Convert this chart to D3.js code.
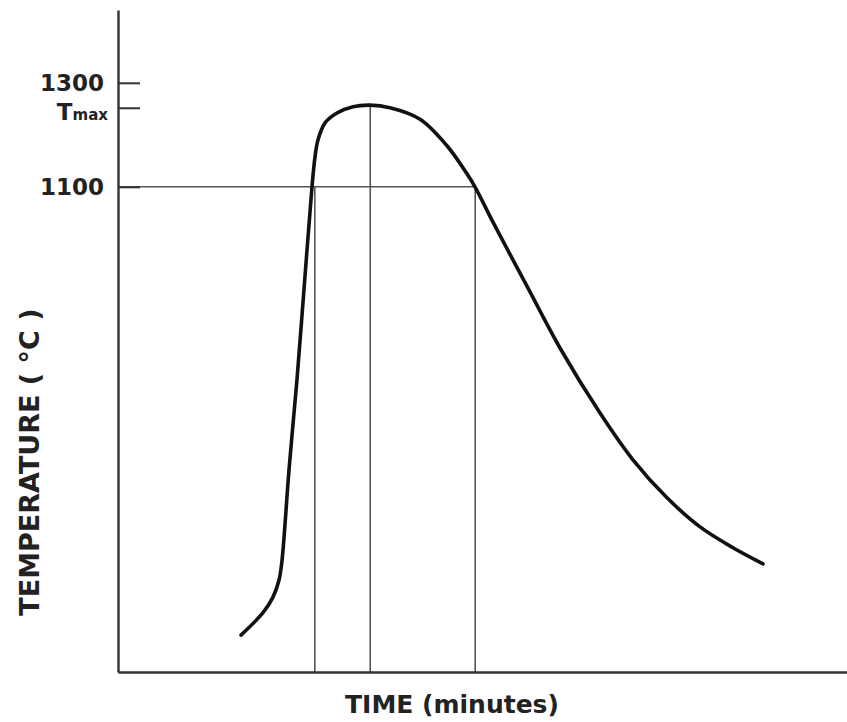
<!DOCTYPE html>
<html>
<head>
<meta charset="utf-8">
<script src="https://cdn.jsdelivr.net/npm/d3@7"></script>
<style>
html,body{margin:0;padding:0;background:#fff;}
svg{display:block;}
</style>
</head>
<body>
<svg id="chart" width="847" height="722"></svg>
<script>
// ---- data ----
const timeMin = [16.87, 19.89, 21.26, 22.09, 22.50, 23.46, 24.55, 25.58, 26.61, 27.02, 27.43, 28.40, 30.04, 32.24, 34.57, 37.31, 41.43, 45.13, 47.87, 48.97, 51.44, 56.10, 60.63, 66.12, 70.64, 75.31, 79.84, 84.36, 88.48];
const tempC   = [238, 281, 311, 344, 382, 556, 729, 915, 1100, 1157, 1190, 1223, 1242, 1254, 1257, 1252, 1230, 1179, 1125, 1100, 1032, 909, 790, 665, 575, 502, 446, 406, 375];
const tickValues = [1300, 1252, 1100];
const tickLabels = ["1300", "Tmax", "1100"];
const refTimes = [27.0, 34.6, 49.0];
const refTemps = [1100, 1257, 1100];
const refLevel = 1100;

// ---- scales ----
const x = d3.scaleLinear().domain([0, 100]).range([118, 847]);
const y = d3.scaleLinear().domain([167, 1440]).range([672, 10]);

const svg = d3.select("#chart");

// reference lines
const ref = svg.append("g").attr("stroke", "#555").attr("stroke-width", 1.6).attr("fill", "none");
ref.append("line")
  .attr("x1", x(0)).attr("x2", x(refTimes[2]))
  .attr("y1", y(refLevel)).attr("y2", y(refLevel));
ref.selectAll("line.v").data(refTimes.map((t, i) => ({t, T: refTemps[i]}))).join("line")
  .attr("class", "v")
  .attr("x1", d => x(d.t)).attr("x2", d => x(d.t))
  .attr("y1", y(167)).attr("y2", d => y(d.T));

// axes
const yAxis = d3.axisLeft(y)
  .tickValues(tickValues)
  .tickFormat((d, i) => tickLabels[i])
  .tickSize(-22)
  .tickSizeOuter(0)
  .tickPadding(14);
const gy = svg.append("g").attr("transform", `translate(${x(0)},0)`).call(yAxis);
gy.select(".domain").attr("stroke", "#333").attr("stroke-width", 2.4);
gy.selectAll(".tick line").attr("stroke", "#333").attr("stroke-width", 2);
gy.selectAll(".tick text")
  .attr("font-family", "DejaVu Sans")
  .attr("font-weight", "bold")
  .attr("font-size", 23)
  .attr("fill", "#222");
gy.selectAll(".tick").filter(d => d === 1252).select("text").each(function() {
  const t = d3.select(this);
  t.text(null).attr("x", -10).attr("dy", "0.5em");
  t.append("tspan").attr("font-size", 23).text("T");
  t.append("tspan").attr("font-size", 15).text("max");
});

const xAxis = d3.axisBottom(x).tickValues([]).tickSizeOuter(0);
const gx = svg.append("g").attr("transform", `translate(0,${y(167)})`).call(xAxis);
gx.select(".domain").attr("stroke", "#333").attr("stroke-width", 2.4);

// curve
const line = d3.line()
  .x((d, i) => x(timeMin[i]))
  .y((d, i) => y(tempC[i]))
  .curve(d3.curveCatmullRom.alpha(0.5));
svg.append("path")
  .datum(timeMin)
  .attr("d", line)
  .attr("fill", "none")
  .attr("stroke", "#111")
  .attr("stroke-width", 3.6)
  .attr("stroke-linecap", "round");

// axis titles
svg.append("text")
  .attr("x", 452).attr("y", 713)
  .attr("text-anchor", "middle")
  .attr("font-family", "DejaVu Sans")
  .attr("font-weight", "bold")
  .attr("font-size", 25)
  .attr("fill", "#222")
  .text("TIME (minutes)");

svg.append("text")
  .attr("transform", "translate(39,462) rotate(-90)")
  .attr("text-anchor", "middle")
  .attr("font-family", "DejaVu Sans")
  .attr("font-weight", "bold")
  .attr("font-size", 27)
  .attr("fill", "#222")
  .text("TEMPERATURE  ( °C )");
</script>
</body>
</html>
